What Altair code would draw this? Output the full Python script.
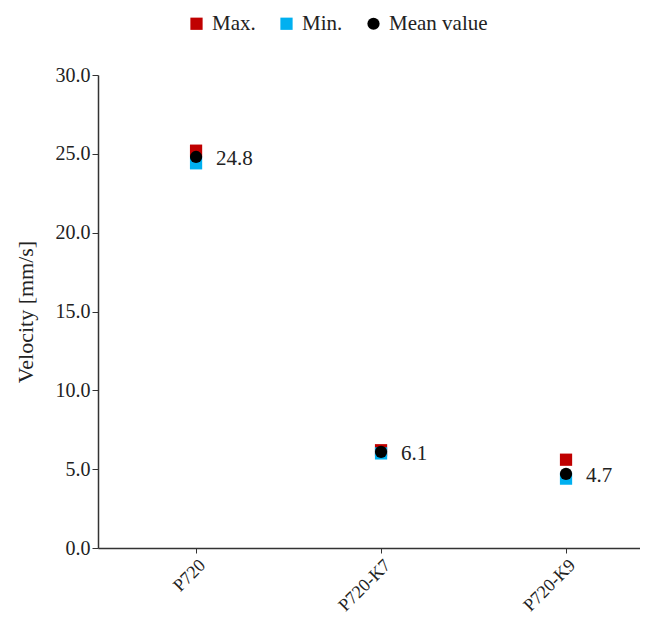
import altair as alt
import pandas as pd

categories = ["P720", "P720-K7", "P720-K9"]
max_vals = [25.2, 6.2, 5.6]
min_vals = [24.4, 6.0, 4.4]
mean_vals = [24.8, 6.1, 4.7]
series = ["Max.", "Min.", "Mean value"]
colors = ["#C00000", "#00B0F0", "#000000"]
shapes = ["square", "square", "circle"]

rows = []
for name, vals in zip(series, [max_vals, min_vals, mean_vals]):
    for c, v in zip(categories, vals):
        rows.append({"cat": c, "value": v, "series": name})
df = pd.DataFrame(rows)
df_mean = pd.DataFrame({"cat": categories, "value": mean_vals,
                        "label": [f"{v:.1f}" for v in mean_vals]})

FONT = "Liberation Serif"
xscale = alt.Scale(type="point", padding=0.465, align=0.57)
yscale = alt.Scale(domain=[0, 30], nice=False)

x_enc = alt.X("cat:N", sort=categories, title=None, scale=xscale,
              axis=alt.Axis(labelAngle=-45, tickSize=5, labelPadding=3,
                            labelFontSize=18))
y_enc = alt.Y("value:Q", title="Velocity [mm/s]", scale=yscale,
              axis=alt.Axis(values=[0, 5, 10, 15, 20, 25, 30], format=".1f",
                            tickSize=6, titlePadding=18))

points = alt.Chart(df).mark_point(filled=True, opacity=1).encode(
    x=x_enc, y=y_enc,
    color=alt.Color("series:N", sort=series,
                    scale=alt.Scale(domain=series, range=colors),
                    legend=alt.Legend(title=None, orient="none", direction="horizontal",
                                      legendX=88, legendY=-62, labelFont=FONT,
                                      labelFontSize=21, labelColor="#222",
                                      symbolSize=110, columnPadding=20,
                                      labelOffset=5)),
    shape=alt.Shape("series:N", sort=series,
                    scale=alt.Scale(domain=series, range=shapes)),
    size=alt.Size("series:N", scale=alt.Scale(domain=series, range=[150, 150, 120]),
                  legend=None),
    order=alt.Order("order:Q"),
).transform_calculate(
    order="datum.series == 'Max.' ? 0 : (datum.series == 'Min.' ? 1 : 2)"
)

labels = alt.Chart(df_mean).mark_text(align="left", dx=20, dy=2, font=FONT,
                                      fontSize=21, color="#222").encode(
    x=alt.X("cat:N", sort=categories, scale=xscale),
    y=alt.Y("value:Q", scale=yscale),
    text="label:N",
)

chart = alt.layer(points, labels).properties(
    width=542, height=473,
    autosize=alt.AutoSizeParams(type="none"),
    padding={"left": 90, "top": 67, "right": 0, "bottom": 68},
    background="white",
).configure_view(stroke=None).configure_axis(
    grid=False, labelFont=FONT, labelFontSize=20, labelColor="#222",
    titleFont=FONT, titleFontSize=22, titleFontWeight="normal", titleColor="#222",
    domainColor="#333", tickColor="#333", domainWidth=1.5,
)

chart.save("out.html", embed_options={"renderer": "svg", "actions": False})
